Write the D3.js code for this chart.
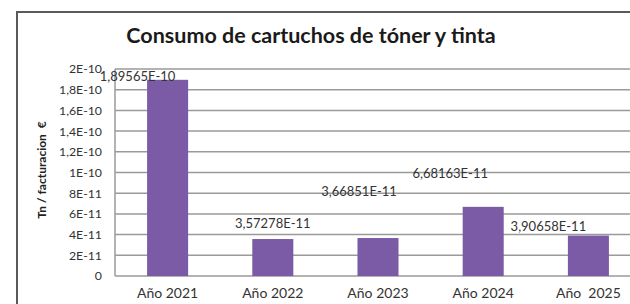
<!DOCTYPE html>
<html>
<head>
<meta charset="utf-8">
<script src="https://cdn.jsdelivr.net/npm/d3@7"></script>
<style>
  body { margin: 0; background: #fff; }
  svg { display: block; font-family: Lato, "Open Sans", sans-serif; }
</style>
</head>
<body>
<svg id="chart" width="630" height="304"></svg>
<script>
// data
const years = ['Año 2021', 'Año 2022', 'Año 2023', 'Año 2024', 'Año  2025'];
const values = [1.89565e-10, 3.57278e-11, 3.66851e-11, 6.68163e-11, 3.90658e-11];
const tickValues = [0, 2e-11, 4e-11, 6e-11, 8e-11, 1e-10, 1.2e-10, 1.4e-10, 1.6e-10, 1.8e-10, 2e-10];
const tickLabels = ['0', '2E-11', '4E-11', '6E-11', '8E-11', '1E-10', '1,2E-10', '1,4E-10', '1,6E-10', '1,8E-10', '2E-10'];

// label nudges (labels were dragged around in the original)
const labelDx = [-30, 0, -19, -33, -40];
const labelDy = [-2, -14, -45, -32, -8];

const svg = d3.select('#chart');

// outer chart frame
svg.append('rect')
  .attr('x', 17).attr('y', 12)
  .attr('width', 640).attr('height', 320)
  .attr('fill', '#fff')
  .attr('stroke', '#5a5a5a')
  .attr('stroke-width', 2);

const x = d3.scaleBand().domain(years).range([115, 641]).paddingInner(0.61).paddingOuter(0.305);
const y = d3.scaleLinear().domain([0, 2e-10]).range([276, 69]);

// gridlines
svg.append('g')
  .selectAll('line')
  .data(tickValues)
  .join('line')
  .attr('x1', 115).attr('x2', 641)
  .attr('y1', (d) => y(d)).attr('y2', (d) => y(d))
  .attr('stroke', '#9a9a9a')
  .attr('stroke-width', 1.5);

// y axis line
svg.append('line')
  .attr('x1', 115).attr('x2', 115)
  .attr('y1', y(2e-10)).attr('y2', y(0))
  .attr('stroke', '#9a9a9a')
  .attr('stroke-width', 1.5);

// y tick labels
const yAxis = d3.axisLeft(y)
  .tickValues(tickValues)
  .tickFormat((d, i) => tickLabels[i])
  .tickSize(0)
  .tickPadding(13);

svg.append('g')
  .attr('transform', 'translate(115,0)')
  .call(yAxis)
  .call((g) => g.select('.domain').remove())
  .call((g) => g.selectAll('text')
    .attr('font-family', 'Lato, sans-serif')
    .attr('font-size', 12.3)
    .attr('fill', '#333'));

// bars
svg.append('g')
  .selectAll('rect')
  .data(values)
  .join('rect')
  .attr('x', (d, i) => x(years[i]))
  .attr('y', (d) => y(d))
  .attr('width', x.bandwidth())
  .attr('height', (d) => y(0) - y(d))
  .attr('fill', '#7b5ba6');

// data labels
svg.append('g')
  .selectAll('text')
  .data(values)
  .join('text')
  .attr('x', (d, i) => x(years[i]) + x.bandwidth() / 2 + labelDx[i])
  .attr('y', (d, i) => y(d) + labelDy[i])
  .attr('text-anchor', 'middle')
  .attr('dominant-baseline', 'middle')
  .attr('font-size', 13)
  .attr('fill', '#333')
  .text((d) => d.toExponential(5).replace('.', ',').replace('e', 'E'));

// x labels
svg.append('g')
  .selectAll('text')
  .data(years)
  .join('text')
  .attr('x', (d) => x(d) + x.bandwidth() / 2)
  .attr('y', 294)
  .attr('text-anchor', 'middle')
  .attr('dominant-baseline', 'middle')
  .attr('font-size', 14)
  .attr('fill', '#333')
  .style('white-space', 'pre')
  .text((d) => d);

// title
svg.append('text')
  .attr('x', 311).attr('y', 37)
  .attr('text-anchor', 'middle')
  .attr('dominant-baseline', 'middle')
  .attr('font-size', 21.5)
  .attr('font-weight', 'bold')
  .attr('fill', '#1a1a1a')
  .text('Consumo de cartuchos de tóner y tinta');

// y axis title
svg.append('text')
  .attr('transform', 'translate(43,170) rotate(-90)')
  .attr('text-anchor', 'middle')
  .attr('dominant-baseline', 'middle')
  .attr('font-size', 12)
  .attr('font-weight', 'bold')
  .attr('fill', '#222')
  .style('white-space', 'pre')
  .text('Tn / facturacion  €');
</script>
</body>
</html>
